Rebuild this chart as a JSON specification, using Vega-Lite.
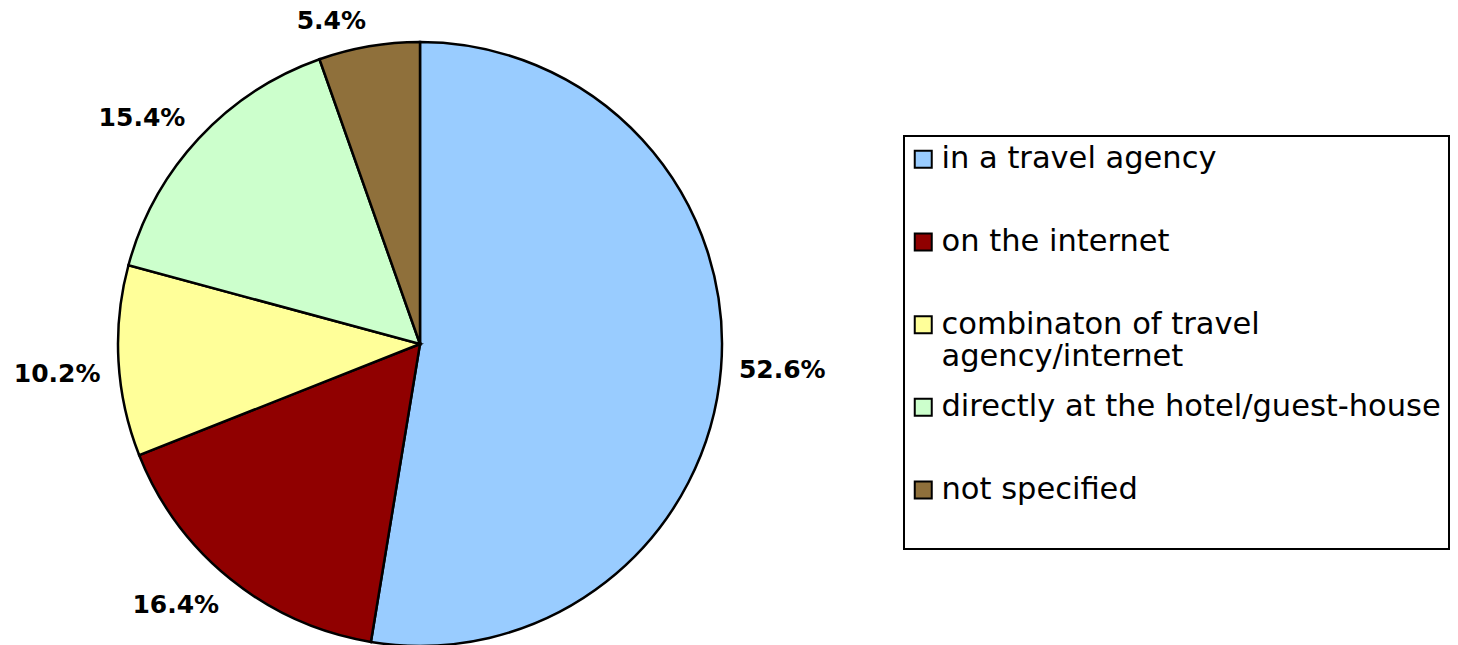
{
  "$schema": "https://vega.github.io/schema/vega-lite/v6.json",
  "width": 840,
  "height": 604,
  "autosize": "none",
  "padding": {"left": 0, "top": 42, "right": 618, "bottom": 0},
  "background": "white",
  "data": {
    "values": [
      {"cat": "in a travel agency", "share": 0.526, "idx": 1},
      {"cat": "on the internet", "share": 0.164, "idx": 2},
      {"cat": "combinaton of travel agency/internet", "share": 0.102, "idx": 3},
      {"cat": "directly at the hotel/guest-house", "share": 0.154, "idx": 4},
      {"cat": "not specified", "share": 0.054, "idx": 5}
    ]
  },
  "encoding": {
    "theta": {"field": "share", "type": "quantitative", "stack": true},
    "order": {"field": "idx", "type": "quantitative"}
  },
  "layer": [
    {
      "mark": {"type": "arc", "radius": 302, "stroke": "black", "strokeWidth": 2.5},
      "encoding": {
        "color": {
          "field": "cat",
          "type": "nominal",
          "sort": ["in a travel agency", "on the internet", "combinaton of travel agency/internet", "directly at the hotel/guest-house", "not specified"],
          "scale": {
            "domain": ["in a travel agency", "on the internet", "combinaton of travel agency/internet", "directly at the hotel/guest-house", "not specified"],
            "range": ["#99CCFF", "#900000", "#FFFF99", "#CCFFCC", "#8F703B"]
          },
          "legend": {
            "title": "\u00a0",
            "titleOrient": "bottom",
            "titleFontSize": 28,
            "titlePadding": 7,
            "orient": "none",
            "legendX": 904,
            "legendY": 94,
            "direction": "vertical",
            "gridAlign": "all",
            "labelFont": "DejaVu Sans",
            "labelFontSize": 30.5,
            "labelColor": "black",
            "labelLimit": 700,
            "labelOffset": 3,
            "symbolType": "square",
            "symbolSize": 289,
            "symbolStrokeColor": "black",
            "symbolStrokeWidth": 2,
            "symbolOpacity": 1,
            "symbolOffset": -4,
            "strokeColor": "black",
            "padding": 8,
            "rowPadding": 18.7,
            "labelExpr": "datum.label == 'combinaton of travel agency/internet' ? ['combinaton of travel', 'agency/internet'] : datum.label"
          }
        }
      }
    },
    {
      "mark": {
        "type": "text",
        "radius": 320,
        "font": "DejaVu Sans",
        "fontSize": 25,
        "fontWeight": "bold",
        "color": "black",
        "align": {"expr": "datum.cat == 'in a travel agency' ? 'left' : 'right'"},
        "baseline": {"expr": "datum.cat == 'in a travel agency' ? 'middle' : ((datum.cat == 'on the internet' || datum.cat == 'combinaton of travel agency/internet') ? 'top' : 'alphabetic')"}
      },
      "encoding": {
        "text": {"field": "share", "type": "quantitative", "format": ".1%"}
      }
    }
  ],
  "config": {"view": {"stroke": null}, "legend": {"strokeWidth": 2}}
}
